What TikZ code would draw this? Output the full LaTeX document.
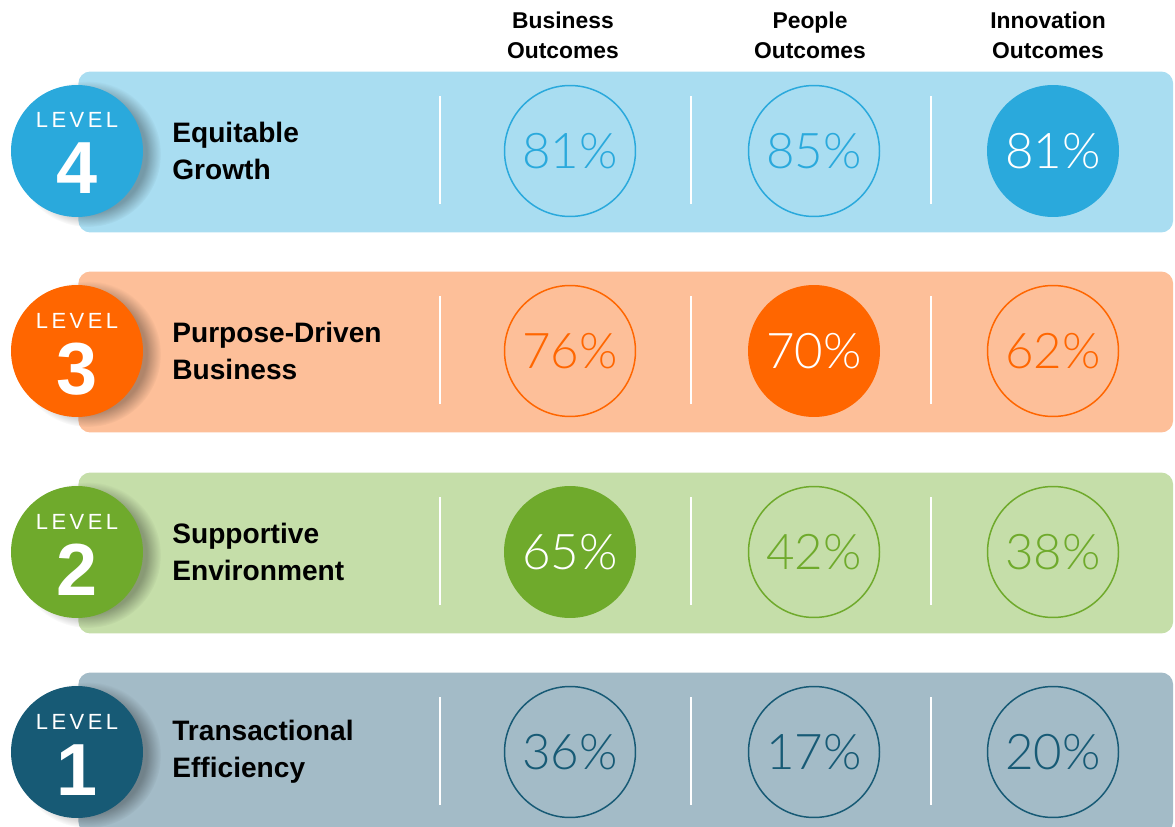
\documentclass[tikz,border=0pt]{standalone}
\usepackage{fontspec}
\setmainfont{Liberation Sans}
\newfontfamily\pctfont{Lato Light}
\newfontfamily\spacedfont{Liberation Sans}[LetterSpace=16]
\usetikzlibrary{fadings}

\definecolor{lv4}{HTML}{2AA9DC}
\definecolor{lv4light}{HTML}{A9DDF1}
\definecolor{lv3}{HTML}{FF6600}
\definecolor{lv3light}{HTML}{FDBF99}
\definecolor{lv2}{HTML}{6FAA2C}
\definecolor{lv2light}{HTML}{C5DEA9}
\definecolor{lv1}{HTML}{175A75}
\definecolor{lv1light}{HTML}{A3BBC7}

\tikzset{
  band/.style={rectangle, rounded corners=0.24cm, inner sep=0, anchor=west,
    minimum width=21.9cm, minimum height=3.22cm},
  badge/.style={circle, inner sep=0, minimum size=2.64cm},
  badgeshadow/.style={black, opacity=0.3, path fading=circle with fuzzy edge 20 percent},
  levelword/.style={anchor=base, text=white, inner sep=0, font=\spacedfont\fontsize{12.5}{12.5}\selectfont},
  levelnum/.style={anchor=base, text=white, inner sep=0, font=\bfseries\fontsize{42}{42}\selectfont},
  ring/.style={circle, draw=#1, line width=0.85pt, text=#1, inner sep=0, minimum size=2.62cm,
    font=\pctfont\fontsize{28}{28}\selectfont},
  dot/.style={circle, fill=#1, text=white, inner sep=0, minimum size=2.64cm,
    font=\pctfont\fontsize{28}{28}\selectfont},
  levelname/.style={anchor=west, align=left, inner sep=0, font=\bfseries\fontsize{16}{21}\selectfont},
  colhead/.style={align=center, inner sep=0, font=\bfseries\fontsize{13}{17}\selectfont},
  divider/.style={white, line width=1.2pt}
}

\begin{document}
\begin{tikzpicture}[x=0.02cm,y={(0,-0.02cm)}]
	\useasboundingbox (0,0) rectangle (1175,827);
	\clip (0,0) rectangle (1175,827);
	% column heads
	\node[colhead] (hbus) at (563,35) {Business\\Outcomes};
	\node[colhead] (hpeo) at (810,35) {People\\Outcomes};
	\node[colhead] (hinn) at (1048,35) {Innovation\\Outcomes};
	% one band per level
	\foreach \n/\y/\name/\pa/\pb/\pc/\f in {
		4/151/{Equitable\\Growth}/81/85/81/3,
		3/351/{Purpose-Driven\\Business}/76/70/62/2,
		2/552/{Supportive\\Environment}/65/42/38/1,
		1/752/{Transactional\\Efficiency}/36/17/20/0}
	{
		\node[band, fill=lv\n light] (band\n) at (78,\y+1) {};
		\fill[badgeshadow] (88,\y+3) circle (1.46cm);
		\node[badge, fill=lv\n] (badge\n) at (77,\y) {};
		\node[levelword] (lw\n) at (77,\y-23) {LEVEL};
		\node[levelnum] (ln\n) at (77,\y+43) {\n};
		\node[levelname] (name\n) at (172,\y) {\name};
		\foreach \dx in {440,691,931}
			{\draw[divider] (\dx,\y-55) -- (\dx,\y+53);};
		\foreach \k/\cx/\p in {1/570/\pa,2/814/\pb,3/1053/\pc}
		{
			\ifnum\k=\f\relax
				\node[dot=lv\n] (c\n\k) at (\cx,\y) {\p\%};
			\else
				\node[ring=lv\n] (c\n\k) at (\cx,\y) {\p\%};
			\fi
		};
	}
\end{tikzpicture}
\end{document}
